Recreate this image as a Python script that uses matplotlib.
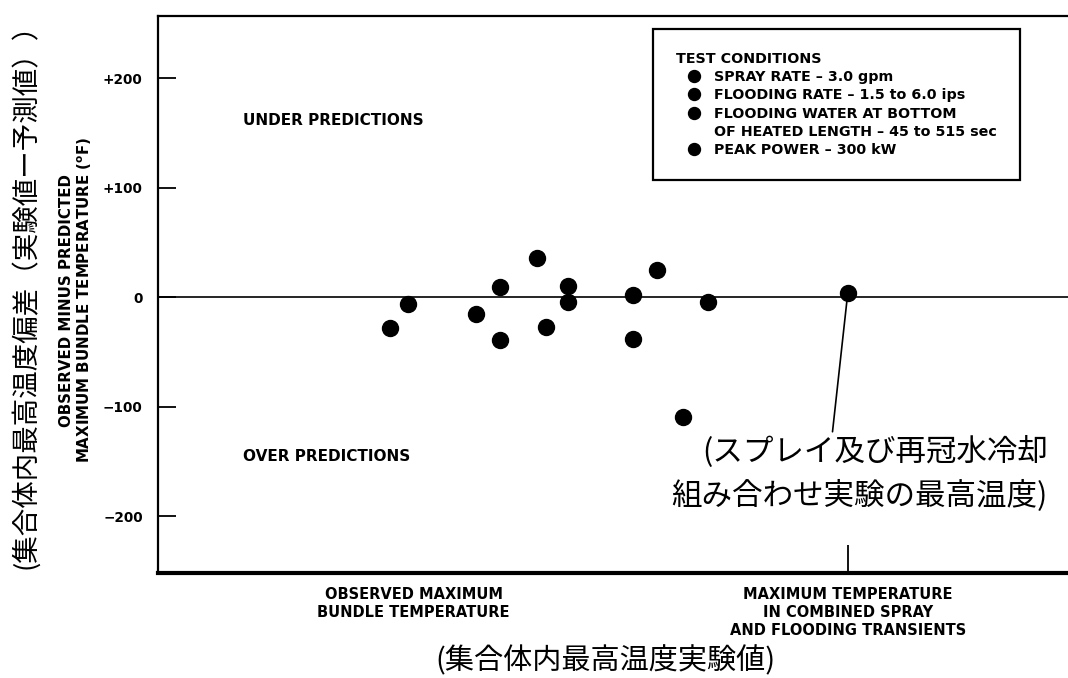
import matplotlib
matplotlib.use("Agg")
import matplotlib.pyplot as plt
from matplotlib.lines import Line2D


plt.rcParams["font.family"] = ["DejaVu Sans", "Noto Sans CJK JP"]
plt.rcParams["font.weight"] = "bold"
JP = "Noto Sans CJK JP"


# Data (x has no scale in the original, positions)
obs_x = [25.5, 27.5, 34.9, 37.6, 37.6, 41.6, 42.6, 45.0, 45.0, 52.2, 52.2, 54.8, 57.7, 60.4]
obs_diff = [-28, -6, -15, 9, -39, 36, -27, 10, -4, 2, -38, 25, -109, -4]

comb_x = 75.8
comb_diff = 4

yticks = [-200, -100, 0, 100, 200]
ytick_labels = ["\u2212200", "\u2212100", "0", "+100", "+200"]

xlabel_obs = "OBSERVED MAXIMUM\nBUNDLE TEMPERATURE"
xlabel_comb = "MAXIMUM TEMPERATURE\nIN COMBINED SPRAY\nAND FLOODING TRANSIENTS"
xlabel_obs_pos = 28.1

legend_title = "TEST CONDITIONS"
legend_lines = [
    "SPRAY RATE \u2013 3.0 gpm",
    "FLOODING RATE \u2013 1.5 to 6.0 ips",
    "FLOODING WATER AT BOTTOM",
    "OF HEATED LENGTH \u2013 45 to 515 sec",
    "PEAK POWER \u2013 300 kW",
]
legend_has_dot = [True, True, True, False, True]


# Figure
fig = plt.figure(figsize=(10.68, 6.78), dpi=100)
ax = fig.add_axes([158 / 1068, 1 - 573 / 678, 910 / 1068, 557 / 678])

ax.set_xlim(0, 100)
ax.set_ylim(-252, 257)

ax.axhline(0, color="black", lw=1.2, zorder=1)

ax.plot(obs_x, obs_diff, "o", color="black", ms=11.5, zorder=3)
ax.plot([comb_x], [comb_diff], "o", color="black", ms=11.5, zorder=3)

# leader line from the combined-transient point
ax.annotate(
    "",
    xy=(comb_x, comb_diff),
    xytext=(-11, -100),
    textcoords="offset points",
    arrowprops=dict(arrowstyle="-", color="black", lw=1.2, shrinkA=0, shrinkB=6),
)

# spines
ax.spines["right"].set_visible(False)
ax.spines["left"].set_linewidth(1.6)
ax.spines["top"].set_linewidth(1.6)
ax.spines["bottom"].set_linewidth(3)

# y ticks
ax.set_yticks(yticks)
ax.set_yticklabels(ytick_labels)
ax.tick_params(axis="y", direction="in", length=13, width=1.3, pad=11, labelsize=9.8)

# x ticks: only the combined transient has a tick mark
ax.set_xticks([xlabel_obs_pos, comb_x])
ax.set_xticklabels([xlabel_obs, xlabel_comb], linespacing=1.25)
ax.tick_params(axis="x", direction="in", length=20, width=1.3, pad=10, labelsize=10.5)
ax.xaxis.get_major_ticks()[0].tick1line.set_visible(False)

ax.text(0.0934, 0.8115, "UNDER PREDICTIONS", transform=ax.transAxes,
        fontsize=11, va="center", ha="left")
ax.text(0.0934, 0.21, "OVER PREDICTIONS", transform=ax.transAxes,
        fontsize=11, va="center", ha="left")

# English y label
ax.text(-0.090, 0.49,
        "OBSERVED MINUS PREDICTED\nMAXIMUM BUNDLE TEMPERATURE ($\\mathbf{^{o}}$F)",
        transform=ax.transAxes, rotation=90, ha="center", va="center",
        fontsize=10.8, linespacing=1.1)

# Legend
handles = []
for has_dot in legend_has_dot:
    if has_dot:
        handles.append(Line2D([], [], ls="none", marker="o", color="black", ms=8.6))
    else:
        handles.append(Line2D([], [], ls="none"))

leg = ax.legend(
    handles, legend_lines,
    title=legend_title,
    loc="upper left",
    bbox_to_anchor=(653 / 1068, 1 - 29 / 678),
    bbox_transform=fig.transFigure,
    frameon=True, fancybox=False, shadow=False,
    edgecolor="black", framealpha=1,
    fontsize=10.3, title_fontsize=10.3,
    alignment="left",
    borderpad=1.6, labelspacing=0.3, handleheight=0.8,
    handlelength=2.6, handletextpad=0.05,
    borderaxespad=0,
)
leg.get_frame().set_linewidth(1.6)
leg.get_title().set_fontweight("bold")

# Japanese annotations
fig.text(1048 / 1068, 1 - 474 / 678,
         "(スプレイ及び再冠水冷却\n組み合わせ実験の最高温度)",
         ha="right", va="center", multialignment="right",
         family=JP, fontweight="normal", fontsize=22, linespacing=1.5)

fig.text(605 / 1068, 1 - 661 / 678, "(集合体内最高温度実験値)",
         ha="center", va="center", family=JP, fontweight="normal", fontsize=21)

fig.text(25 / 1068, 1 - 289 / 678, "(集合体内最高温度偏差（実験値ー予測値））",
         ha="center", va="center", rotation=90,
         family=JP, fontweight="normal", fontsize=19.8)

fig.savefig("out.png", dpi=100)
